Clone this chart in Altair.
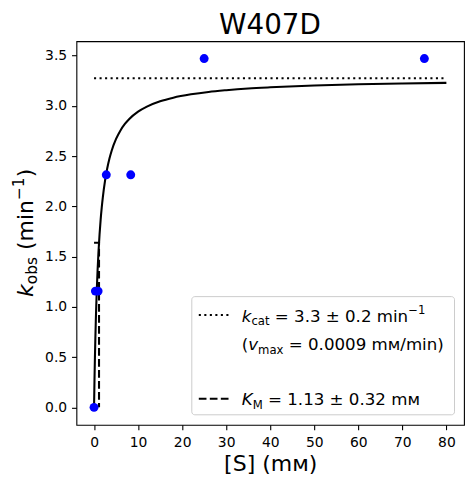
import altair as alt
import pandas as pd

# ---------------- data ----------------
s_conc = [0, 0.309, 0.926, 2.78, 8.33, 25, 75]
k_obs = [0, 1.157, 1.157, 2.314, 2.314, 3.471, 3.471]

fit_s = [0, 0.1, 0.2, 0.3, 0.4, 0.5, 0.65, 0.8, 1.0, 1.25, 1.5, 1.75, 2.0, 2.5,
         3.0, 3.5, 4, 5, 6, 7, 8, 10, 12, 15, 18, 22, 26, 30, 35, 40, 50, 60, 70, 80]
fit_k = [0, 0.266, 0.493, 0.687, 0.856, 1.005, 1.196, 1.358, 1.538, 1.720, 1.868,
         1.990, 2.093, 2.256, 2.379, 2.476, 2.554, 2.671, 2.756, 2.820, 2.870, 2.943,
         2.993, 3.046, 3.082, 3.115, 3.139, 3.156, 3.173, 3.185, 3.203, 3.215, 3.223, 3.229]

kcat_s = [0, 80]
kcat_k = [3.275, 3.275]

km_s = [0, 1.13, 1.13]
km_k = [1.6375, 1.6375, 0]

x_ticks = [0, 10, 20, 30, 40, 50, 60, 70, 80]
y_ticks = [0, 0.5, 1.0, 1.5, 2.0, 2.5, 3.0, 3.5]

title_text = "W407D"
x_title = "[S] (mᴍ)"

FONT = "DejaVu Sans"

# ---------------- scales / shared encodings ----------------
X = alt.X("s:Q",
          scale=alt.Scale(domain=[-4, 84], nice=False, zero=False),
          axis=alt.Axis(values=x_ticks, title=x_title, format="d", labelPadding=6,
                        titlePadding=3.5))
Y = alt.Y("k:Q",
          scale=alt.Scale(domain=[-0.1735, 3.6435], nice=False, zero=False),
          axis=alt.Axis(values=y_ticks, title=None, format=".1f", labelPadding=4.9))

fit_df = pd.DataFrame({"s": fit_s, "k": fit_k, "o": list(range(len(fit_s)))})
kcat_df = pd.DataFrame({"s": kcat_s, "k": kcat_k, "o": [0, 1]})
km_df = pd.DataFrame({"s": km_s, "k": km_k, "o": [0, 1, 2]})
pts_df = pd.DataFrame({"s": s_conc, "k": k_obs})

LW = 2.08

kcat_line = alt.Chart(kcat_df).mark_line(color="black", strokeWidth=LW,
                                         strokeDash=[2.08, 3.44], strokeCap="butt").encode(
    x=X, y=Y, order="o:Q")
km_line = alt.Chart(km_df).mark_line(color="black", strokeWidth=LW,
                                     strokeDash=[7.7, 3.33], strokeCap="butt").encode(
    x=X, y=Y, order="o:Q")
fit_line = alt.Chart(fit_df).mark_line(color="black", strokeWidth=LW,
                                       interpolate="monotone").encode(
    x=X, y=Y, order="o:Q")
points = alt.Chart(pts_df).mark_point(filled=True, color="#0000ff", opacity=1,
                                      size=80, shape="circle").encode(x=X, y=Y)

# ---------------- rich text helpers (sub/superscripts) ----------------
W = {"k": .579, "K": .656, "v": .592, "c": .550, "a": .613, "t": .392, "m": .974,
     "x": .592, "o": .612, "b": .635, "s": .521, "i": .278, "n": .634, " ": .318,
     "=": .838, "±": .838, ".": .318, "−": .838, "(": .390, ")": .390, "/": .337,
     "M": .863, "ᴍ": .75}
for d in "0123456789":
    W[d] = .636


def tw(s, size):
    return sum(W.get(ch, .6) for ch in s) * size


def rich(pieces, x0, y0, rotate=False):
    out = []
    pos = 0.0
    for text, size, italic, shift in pieces:
        lead = len(text) - len(text.lstrip(" "))
        pos += tw(" " * lead, size)
        body = text.lstrip(" ")
        if rotate:
            px, py = x0 + shift, y0 - pos
        else:
            px, py = x0 + pos, y0 + shift
        out.append(
            alt.Chart(pd.DataFrame({"t": [body]})).mark_text(
                align="left", baseline="alphabetic", font=FONT, fontSize=size,
                fontStyle="italic" if italic else "normal",
                angle=270 if rotate else 0, color="black"
            ).encode(x=alt.value(px), y=alt.value(py), text="t:N")
        )
        pos += tw(body, size)
    return out


F = 16.67
S = 11.67

legend_box = alt.Chart(pd.DataFrame({"a": [0]})).mark_rect(
    fill="white", fillOpacity=0.8, stroke="#cccccc", strokeWidth=1, cornerRadius=3
).encode(x=alt.value(115.5), x2=alt.value(378.5), y=alt.value(255.7), y2=alt.value(374))

leg_dot = alt.Chart(pd.DataFrame({"a": [0]})).mark_rule(
    color="black", strokeWidth=LW, strokeDash=[2.08, 3.44], strokeCap="butt"
).encode(x=alt.value(122.5), x2=alt.value(154.5), y=alt.value(274))
leg_dash = alt.Chart(pd.DataFrame({"a": [0]})).mark_rule(
    color="black", strokeWidth=LW, strokeDash=[7.7, 3.33], strokeCap="butt"
).encode(x=alt.value(122.5), x2=alt.value(154.5), y=alt.value(358))

TX = 165.5
row1 = rich([("k", F, True, 0), ("cat", S, False, 3.8),
             (" = 3.3 ± 0.2 min", F, False, 0), ("−1", S, False, -7.2)], TX, 280.7)
row2 = rich([("(", F, False, 0), ("v", F, True, 0), ("max", S, False, 3.8),
             (" = 0.0009 mᴍ/min)", F, False, 0)], TX, 309)
row4 = rich([("K", F, True, 0), ("M", S, False, 3.8),
             (" = 1.13 ± 0.32 mᴍ", F, False, 0)], TX, 364)

ytitle = rich([("k", 22, True, 0), ("obs", 15.4, False, 3.5), (" (min", 22, False, 0),
               ("−1", 15.4, False, -9.5), (")", 22, False, 0)], -43.2, 256, rotate=True)

title = alt.Chart(pd.DataFrame({"t": [title_text]})).mark_text(
    align="center", baseline="alphabetic", font=FONT, fontSize=27.8, color="black"
).encode(x=alt.value(193.8), y=alt.value(-7.0), text="t:N")

chart = alt.layer(
    kcat_line, km_line, fit_line, points, legend_box, leg_dot, leg_dash,
    *row1, *row2, *row4, *ytitle, title
).properties(
    width=388, height=384,
    autosize=alt.AutoSizeParams(type="none"),
    padding={"left": 68.5, "top": 33, "right": 1, "bottom": 51},
).configure_view(
    stroke="black", strokeWidth=1.1
).configure_axis(
    grid=False, domain=False, labelFont=FONT, labelFontSize=13.9, labelColor="black",
    tickColor="black", tickWidth=1.1, tickSize=4.9, titleFont=FONT, titleFontSize=22,
    titleFontWeight="normal", titleColor="black"
)

chart.save("out.html", embed_options={"renderer": "svg", "actions": False})
